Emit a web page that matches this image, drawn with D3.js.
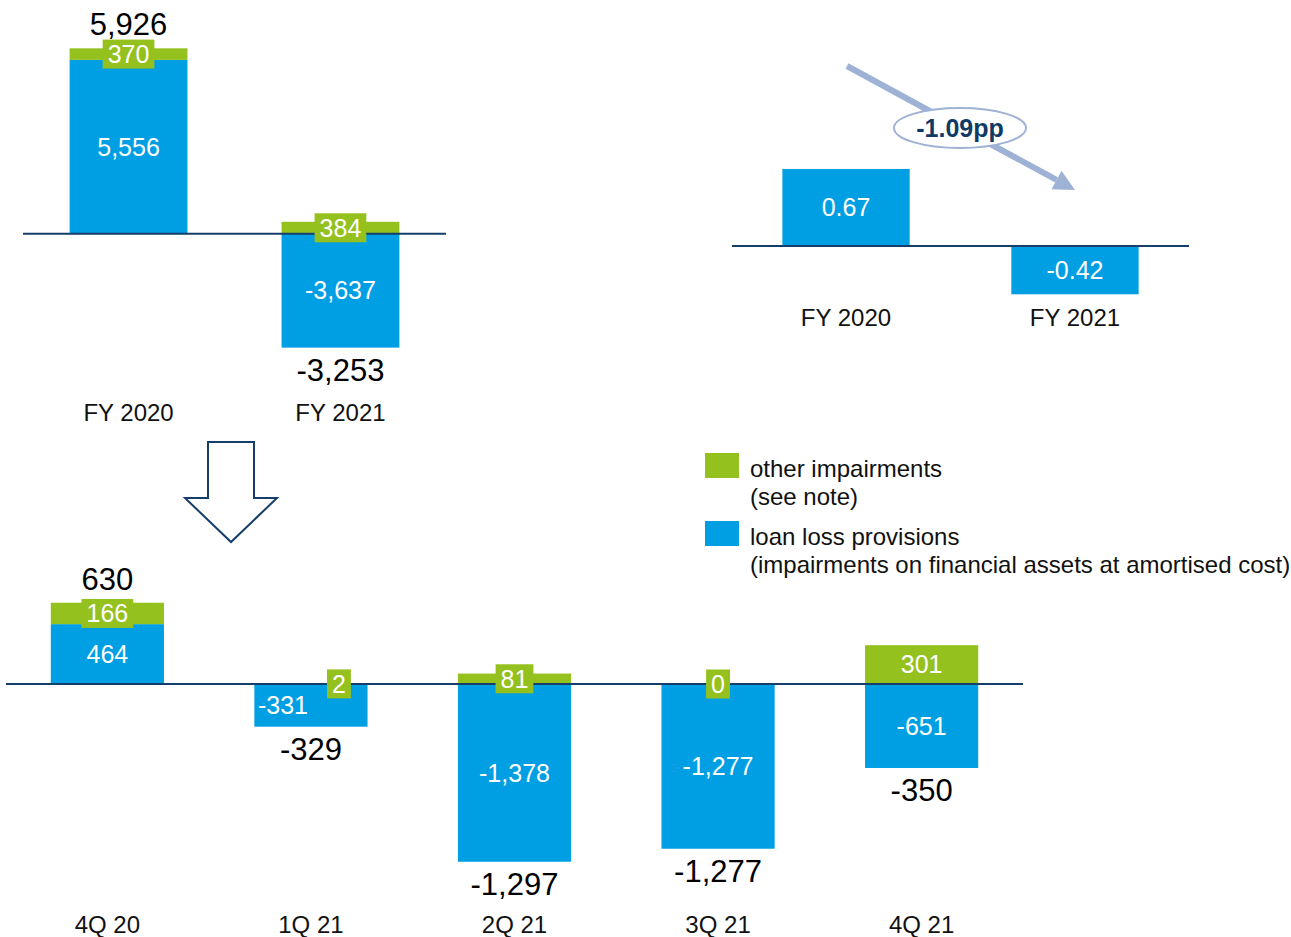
<!DOCTYPE html>
<html>
<head>
<meta charset="utf-8">
<script src="https://cdn.jsdelivr.net/npm/d3@7"></script>
<style>
    body { margin: 0; background: #fff; }
    svg { display: block; font-family: 'Liberation Sans', Arial, sans-serif; }
</style>
</head>
<body>
<div id="chart"></div>
<script>
// full year, EUR m
var fyCategories = ['FY 2020', 'FY 2021'];
var fyLoanLoss = [5556, -3637];
var fyOther = [370, 384];
var fyTotals = [5926, -3253];

// cost of risk, %
var ratioCategories = ['FY 2020', 'FY 2021'];
var ratioValues = [0.67, -0.42];
var ratioChange = '-1.09pp';

// quarters, EUR m
var qCategories = ['4Q 20', '1Q 21', '2Q 21', '3Q 21', '4Q 21'];
var qLoanLoss = [464, -331, -1378, -1277, -651];
var qOther = [166, 2, 81, 0, 301];
var qTotals = [630, -329, -1297, -1277, -350];

var legendItems = [
    { key: 'other', lines: ['other impairments', '(see note)'] },
    { key: 'llp', lines: ['loan loss provisions', '(impairments on financial assets at amortised cost)'] }
];

var BLUE = '#009fe3', GREEN = '#95c11f', NAVY = '#163e6b', ARROW = '#9db2d5';
var colors = { other: GREEN, llp: BLUE };

var locale = d3.formatLocale({ decimal: '.', thousands: ',', grouping: [3], currency: ['', ''], minus: '-' });
var fmt = locale.format(',');
var fmtRatio = locale.format('.2f');

var svg = d3.select('#chart').append('svg')
    .attr('width', 1291)
    .attr('height', 937);

function stackedPanel(opts) {
    var x = d3.scaleBand()
        .domain(opts.categories)
        .range(opts.xRange)
        .paddingInner(0.444)
        .paddingOuter(0.22);
    var y = d3.scaleLinear().domain(opts.yDomain).range(opts.yRange);
    var g = svg.append('g');

    var rows = opts.categories.map(function(c, i) {
        var blue = opts.blue[i], green = opts.green[i];
        var pos = blue >= 0 ? blue : 0, neg = blue < 0 ? blue : 0;
        return {
            cat: c,
            blue: blue,
            green: green,
            total: opts.totals[i],
            b: blue >= 0 ? [0, blue] : [blue, 0],
            g: green >= 0 ? [pos, pos + green] : [neg + green, neg],
            nudge: (opts.nudges || {})[c] || { blue: 0, green: 0 }
        };
    });

    g.selectAll('rect.llp').data(rows).enter().append('rect')
        .attr('class', 'llp')
        .attr('x', function(d) { return x(d.cat); })
        .attr('width', x.bandwidth())
        .attr('y', function(d) { return y(d.b[1]); })
        .attr('height', function(d) { return y(d.b[0]) - y(d.b[1]); })
        .style('fill', BLUE);

    g.selectAll('rect.other').data(rows).enter().append('rect')
        .attr('class', 'other')
        .attr('x', function(d) { return x(d.cat); })
        .attr('width', x.bandwidth())
        .attr('y', function(d) { return y(d.g[1]); })
        .attr('height', function(d) { return y(d.g[0]) - y(d.g[1]); })
        .style('fill', GREEN);

    g.append('line')
        .attr('x1', opts.xRange[0])
        .attr('x2', opts.xRange[1])
        .attr('y1', y(0))
        .attr('y2', y(0))
        .style('stroke', NAVY)
        .style('stroke-width', 2);

    var cx = function(d) { return x(d.cat) + x.bandwidth() / 2; };

    // loan loss provision values inside the blue bars
    g.selectAll('text.llp').data(rows).enter().append('text')
        .attr('class', 'llp')
        .attr('x', function(d) { return cx(d) + d.nudge.blue; })
        .attr('y', function(d) { return (y(d.b[0]) + y(d.b[1])) / 2; })
        .attr('dy', '.35em')
        .attr('text-anchor', 'middle')
        .style('font-size', '25px')
        .style('fill', '#fff')
        .text(function(d) { return fmt(d.blue); });

    // other impairments, with a green box when the segment is too thin
    var gl = g.selectAll('g.otherLabel').data(rows).enter().append('g')
        .attr('class', 'otherLabel')
        .attr('transform', function(d) {
            return 'translate(' + (cx(d) + d.nudge.green) + ',' + ((y(d.g[0]) + y(d.g[1])) / 2) + ')';
        });
    gl.append('rect').style('fill', GREEN);
    gl.append('text')
        .attr('dy', '.35em')
        .attr('text-anchor', 'middle')
        .style('font-size', '25px')
        .style('fill', '#fff')
        .text(function(d) { return fmt(d.green); });
    gl.each(function(d) {
        var node = d3.select(this);
        var w = node.select('text').node().getComputedTextLength();
        if (y(d.g[0]) - y(d.g[1]) < 30) {
            node.select('rect')
                .attr('x', -w / 2 - 5)
                .attr('y', -14.5)
                .attr('width', w + 10)
                .attr('height', 29);
        } else {
            node.select('rect').remove();
        }
    });

    // totals
    g.selectAll('text.total').data(rows).enter().append('text')
        .attr('class', 'total')
        .attr('x', cx)
        .attr('y', function(d) {
            return d.total >= 0 ? y(Math.max(d.b[1], d.g[1])) - 13 : y(Math.min(d.b[0], d.g[0])) + 33;
        })
        .attr('text-anchor', 'middle')
        .style('font-size', '31px')
        .style('fill', '#000')
        .text(function(d) { return fmt(d.total); });

    g.selectAll('text.cat').data(rows).enter().append('text')
        .attr('class', 'cat')
        .attr('x', cx)
        .attr('y', opts.catY)
        .attr('text-anchor', 'middle')
        .style('font-size', '24px')
        .style('fill', '#111')
        .text(function(d) { return d.cat; });
}

stackedPanel({
    categories: fyCategories,
    blue: fyLoanLoss,
    green: fyOther,
    totals: fyTotals,
    xRange: [23, 446],
    yDomain: [-4000, 6000],
    yRange: [359, 46],
    catY: 421
});

stackedPanel({
    categories: qCategories,
    blue: qLoanLoss,
    green: qOther,
    totals: qTotals,
    xRange: [6, 1023],
    yDomain: [-1500, 700],
    yRange: [877.5, 593.7],
    catY: 933,
    nudges: { '1Q 21': { blue: -28, green: 28 } }
});

// cost of risk panel
(function() {
    var x = d3.scaleBand()
        .domain(ratioCategories)
        .range([732, 1189])
        .paddingInner(0.444)
        .paddingOuter(0.22);
    var y = d3.scaleLinear().domain([-0.5, 0.8]).range([303.5, 154]);
    var g = svg.append('g');
    var rows = ratioCategories.map(function(c, i) { return { cat: c, v: ratioValues[i] }; });

    g.selectAll('rect').data(rows).enter().append('rect')
        .attr('x', function(d) { return x(d.cat); })
        .attr('width', x.bandwidth())
        .attr('y', function(d) { return y(Math.max(0, d.v)); })
        .attr('height', function(d) { return Math.abs(y(d.v) - y(0)); })
        .style('fill', BLUE);

    g.append('line')
        .attr('x1', 732).attr('x2', 1189)
        .attr('y1', y(0)).attr('y2', y(0))
        .style('stroke', NAVY)
        .style('stroke-width', 2);

    g.selectAll('text.val').data(rows).enter().append('text')
        .attr('class', 'val')
        .attr('x', function(d) { return x(d.cat) + x.bandwidth() / 2; })
        .attr('y', function(d) { return (y(d.v) + y(0)) / 2; })
        .attr('dy', '.35em')
        .attr('text-anchor', 'middle')
        .style('font-size', '25px')
        .style('fill', '#fff')
        .text(function(d) { return fmtRatio(d.v); });

    g.selectAll('text.cat').data(rows).enter().append('text')
        .attr('class', 'cat')
        .attr('x', function(d) { return x(d.cat) + x.bandwidth() / 2; })
        .attr('y', 326)
        .attr('text-anchor', 'middle')
        .style('font-size', '24px')
        .style('fill', '#111')
        .text(function(d) { return d.cat; });

    // change arrow
    var start = [847, 66], tip = [1075, 190];
    var dx = tip[0] - start[0], dy = tip[1] - start[1], len = Math.sqrt(dx * dx + dy * dy);
    var ux = dx / len, uy = dy / len, head = 21, half = 10.5;
    var base = [tip[0] - ux * head, tip[1] - uy * head];
    g.append('line')
        .attr('x1', start[0]).attr('y1', start[1])
        .attr('x2', base[0]).attr('y2', base[1])
        .style('stroke', ARROW)
        .style('stroke-width', 6);
    g.append('polygon')
        .attr('points', [tip, [base[0] - uy * half, base[1] + ux * half], [base[0] + uy * half, base[1] - ux * half]].join(' '))
        .style('fill', ARROW);
    g.append('ellipse')
        .attr('cx', 960).attr('cy', 128)
        .attr('rx', 66).attr('ry', 20)
        .style('fill', '#fff')
        .style('stroke', ARROW)
        .style('stroke-width', 2);
    g.append('text')
        .attr('x', 960).attr('y', 128)
        .attr('dy', '.35em')
        .attr('text-anchor', 'middle')
        .style('font-size', '25px')
        .style('font-weight', 'bold')
        .style('fill', '#0f3a66')
        .text(ratioChange);
})();

// hollow down arrow between the panels
svg.append('polygon')
    .attr('points', '208,442 254,442 254,498 277,498 231,542 185,498 208,498')
    .style('fill', '#fff')
    .style('stroke', NAVY)
    .style('stroke-width', 2);

// legend
var legend = svg.append('g').attr('transform', 'translate(705,453)');
var li = legend.selectAll('g').data(legendItems).enter().append('g')
    .attr('transform', function(d, i) { return 'translate(0,' + (i * 68) + ')'; });
li.append('rect')
    .attr('width', 34)
    .attr('height', 25)
    .style('fill', function(d) { return colors[d.key]; });
li.selectAll('text').data(function(d) { return d.lines; }).enter().append('text')
    .attr('x', 45)
    .attr('y', function(d, i) { return 24 + i * 27.5; })
    .style('font-size', '24px')
    .style('fill', '#111')
    .text(function(d) { return d; });
</script>
</body>
</html>
